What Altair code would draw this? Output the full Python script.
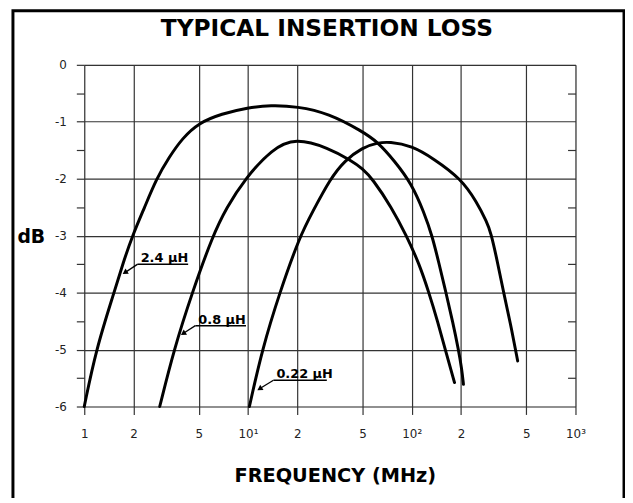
import altair as alt
import pandas as pd

# ---- data ----
curve_names = ["2.4 µH", "0.8 µH", "0.22 µH"]

freq_24 = [1.00, 1.18, 1.52, 1.73, 1.97, 2.33, 2.76, 3.30, 3.97, 5.0, 6.89, 10.0, 13.7, 20.0,
           31.0, 50.0, 61.7, 78.1, 100, 118.8, 133.2, 146.2, 161.8, 178.2, 192.9, 202, 206.9]
db_24 = [-6.0, -5.0, -4.0, -3.47, -3.0, -2.51, -2.0, -1.62, -1.29, -1.02, -0.86, -0.75, -0.71,
         -0.73, -0.85, -1.17, -1.35, -1.68, -2.09, -2.59, -3.0, -3.47, -4.0, -4.52, -5.0,
         -5.34, -5.61]

freq_08 = [2.89, 3.53, 4.56, 6.09, 7.39, 9.59, 14.0, 19.5, 31.0, 42.6, 50.0, 57.5, 75.2,
           92.8, 111.3, 127.3, 143.8, 160.2, 182.5]
db_08 = [-6.0, -5.0, -4.0, -3.0, -2.51, -2.0, -1.48, -1.28, -1.46, -1.68, -1.82, -2.0, -2.5,
         -3.0, -3.5, -4.0, -4.5, -5.0, -5.58]

freq_022 = [10.2, 12.2, 15.6, 20.8, 24.7, 31.8, 39.0, 50.0, 61.7, 72.8, 100, 136.4, 200,
            249.7, 287.4, 304.2, 334.4, 363.9, 399.5, 443.6]
db_022 = [-6.0, -5.0, -4.0, -3.0, -2.59, -2.0, -1.68, -1.45, -1.37, -1.35, -1.42, -1.65, -2.0,
          -2.41, -2.76, -2.94, -3.47, -4.0, -4.52, -5.2]

# annotation labels (underline start/end, underline level, arrow tip)
label_text = ["2.4 µH", "0.8 µH", "0.22 µH"]
label_f_start = [2.12, 4.77, 14.3]
label_f_end = [4.31, 9.72, 30.3]
label_db = [-3.5, -4.58, -5.54]
tip_f = [1.79, 4.06, 11.9]
tip_db = [-3.64, -4.71, -5.68]
arrow_angle = [237, 237, 238]

x_ticks = [1, 2, 5, 10, 20, 50, 100, 200, 500, 1000]
x_tick_labels = ["1", "2", "5", "10¹", "2", "5", "10²", "2", "5", "10³"]
y_ticks = [-6, -5.5, -5, -4.5, -4, -3.5, -3, -2.5, -2, -1.5, -1, -0.5, 0]
y_minor = [-5.5, -4.5, -3.5, -2.5, -1.5, -0.5]

# ---- tables ----
rows = []
for name, fs, ds in [(curve_names[0], freq_24, db_24),
                     (curve_names[1], freq_08, db_08),
                     (curve_names[2], freq_022, db_022)]:
    for i, (f, d) in enumerate(zip(fs, ds)):
        rows.append({"curve": name, "freq": f, "db": d, "order": i})
curves = pd.DataFrame(rows)

ann = pd.DataFrame({
    "label": label_text, "f_start": label_f_start, "f_end": label_f_end,
    "db_line": label_db, "f_tip": tip_f, "db_tip": tip_db, "angle": arrow_angle,
})

x_label_expr = " : ".join(
    f"datum.value == {v} ? '{l}'" for v, l in zip(x_ticks, x_tick_labels)
) + " : ''"

GRID = "#333333"
FONT = "DejaVu Sans"

xs = alt.Scale(type="log", domain=[1, 1000], nice=False)
ys = alt.Scale(domain=[-6, 0], nice=False, zero=False)

x_axis = alt.Axis(
    values=x_ticks, labelExpr=x_label_expr,
    grid=True, gridColor=GRID, gridWidth=1.2, gridOpacity=1,
    domain=False, ticks=True, tickSize=8, tickColor=GRID, tickWidth=1.2,
    labelFont=FONT, labelFontSize=12, labelColor="#222222", labelPadding=14,
    labelFlush=False, labelOverlap=False, labelBound=False,
    title="FREQUENCY (MHz)", titleFont=FONT, titleFontSize=19.5, titleFontWeight="bold",
    titleColor="black", titleX=253, titleY=76, titleAlign="center", titleBaseline="alphabetic",
)

y_axis = alt.Axis(
    values=y_ticks,
    labelExpr="datum.value % 1 == 0 ? toString(datum.value) : ''",
    grid=True, gridColor=GRID, gridWidth=1.2,
    gridOpacity={"condition": {"test": "datum.value % 1 != 0", "value": 0}, "value": 1},
    domain=False, ticks=True, tickSize=8, tickColor=GRID, tickWidth=1.2,
    labelFont=FONT, labelFontSize=12, labelColor="#222222", labelPadding=10,
    labelFlush=False, labelOverlap=False, labelBound=False,
    title="dB", titleFont=FONT, titleFontSize=19, titleFontWeight="bold", titleColor="black",
    titleAngle=0, titleX=-68, titleY=179, titleAlign="left", titleBaseline="alphabetic",
)

lines = alt.Chart(curves).mark_line(
    color="black", strokeWidth=3, interpolate="basis", strokeCap="round"
).encode(
    x=alt.X("freq:Q", scale=xs, axis=x_axis),
    y=alt.Y("db:Q", scale=ys, axis=y_axis),
    detail="curve:N",
    order="order:Q",
)

underline = alt.Chart(ann).mark_rule(color="black", strokeWidth=1.5).encode(
    x=alt.X("f_start:Q", scale=xs, axis=x_axis),
    x2="f_end:Q",
    y=alt.Y("db_line:Q", scale=ys, axis=y_axis),
)

shaft = alt.Chart(ann).mark_rule(color="black", strokeWidth=1.3).encode(
    x=alt.X("f_start:Q", scale=xs, axis=x_axis),
    x2="f_tip:Q",
    y=alt.Y("db_line:Q", scale=ys, axis=y_axis),
    y2="db_tip:Q",
)

head = alt.Chart(ann).mark_point(
    shape="triangle", filled=True, size=38, color="black", opacity=1
).encode(
    x=alt.X("f_tip:Q", scale=xs, axis=x_axis),
    y=alt.Y("db_tip:Q", scale=ys, axis=y_axis),
    angle=alt.Angle("angle:Q", scale=None),
)

labels = alt.Chart(ann).mark_text(
    align="left", baseline="alphabetic", dx=3, dy=-2,
    font=FONT, fontSize=13, fontWeight="bold", color="black"
).encode(
    x=alt.X("f_start:Q", scale=xs, axis=x_axis),
    y=alt.Y("db_line:Q", scale=ys, axis=y_axis),
    text="label:N",
)

frame = alt.Chart(pd.DataFrame({"k": [0]})).mark_rect(
    fillOpacity=0, stroke="black", strokeWidth=3
).encode(
    x=alt.value(-72), x2=alt.value(545), y=alt.value(-54.5), y2=alt.value(460)
)

inner = alt.layer(frame, lines, underline, shaft, head, labels)

ghost = alt.Chart(curves).mark_line(strokeOpacity=0).encode(
    x=alt.X("freq:Q", scale=xs, axis=x_axis),
    y=alt.Y("db:Q", scale=alt.Scale(domain=[-6, 0], nice=False, zero=False),
            axis=alt.Axis(orient="right", values=y_minor, labels=False, grid=False,
                          domain=False, ticks=True, tickSize=8, tickColor=GRID,
                          tickWidth=1.2, offset=-8, title=None)),
    detail="curve:N",
    order="order:Q",
)

chart = alt.layer(inner, ghost).resolve_scale(y="independent").properties(
    width=496, height=345,
    autosize=alt.AutoSizeParams(type="none"),
    padding={"left": 77, "top": 55, "right": 50, "bottom": 90},
    title=alt.TitleParams(
        "TYPICAL INSERTION LOSS", font=FONT, fontSize=23.5, fontWeight="bold",
        color="black", anchor="middle", baseline="alphabetic", offset=0, dx=-3, dy=50,
    ),
).configure_view(stroke=GRID, strokeWidth=1.2).configure(background="white")

chart.save("out.html", embed_options={"renderer": "svg", "actions": False})
